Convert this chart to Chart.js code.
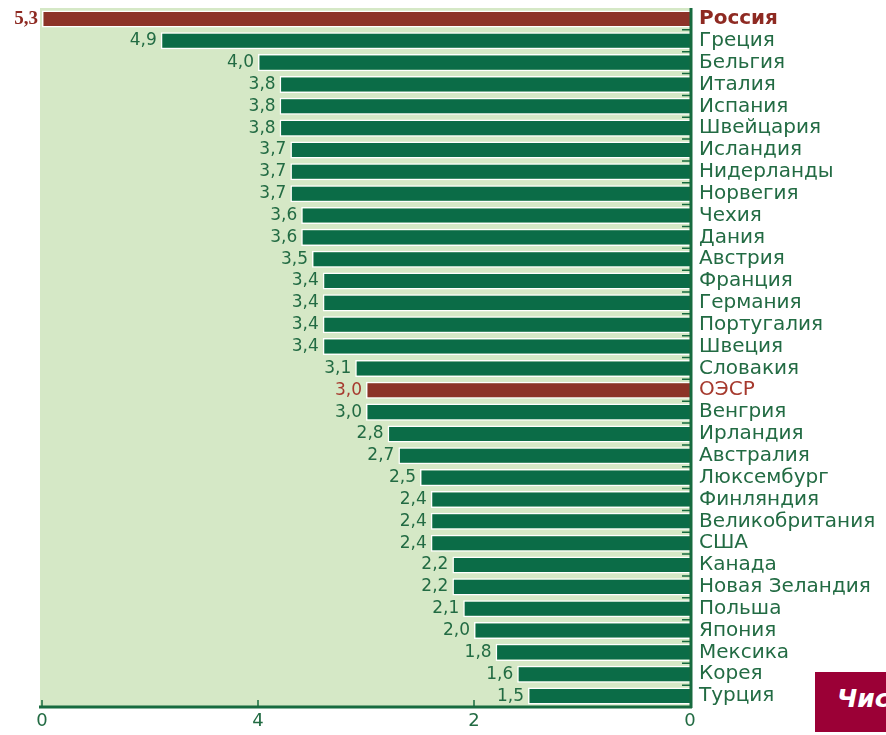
<!DOCTYPE html>
<html>
<head>
<meta charset="utf-8">
<script src="https://cdn.jsdelivr.net/npm/chart.js@4/dist/chart.umd.min.js"></script>
<style>
  body { margin: 0; background: #fff; }
  #wrap { position: relative; width: 886px; height: 735px; overflow: hidden; }
  #badge {
    position: absolute; left: 815px; top: 672px; width: 71px; height: 60px;
    background: #9b0036; color: #fff; overflow: hidden; white-space: nowrap;
    font: italic bold 25px "DejaVu Sans", sans-serif;
    line-height: 54px; padding-left: 22px; box-sizing: border-box;
  }
</style>
</head>
<body>
<div id="wrap">
  <canvas id="myChart" width="886" height="735"></canvas>
  <div id="badge">Числа</div>
</div>
<script>
const countries = ['Россия','Греция','Бельгия','Италия','Испания','Швейцария','Исландия',
  'Нидерланды','Норвегия','Чехия','Дания','Австрия','Франция','Германия','Португалия',
  'Швеция','Словакия','ОЭСР','Венгрия','Ирландия','Австралия','Люксембург','Финляндия',
  'Великобритания','США','Канада','Новая Зеландия','Польша','Япония','Мексика','Корея','Турция'];
const values = [5.3,4.9,4.0,3.8,3.8,3.8,3.7,3.7,3.7,3.6,3.6,3.5,3.4,3.4,3.4,3.4,3.1,3.0,
  3.0,2.8,2.7,2.5,2.4,2.4,2.4,2.2,2.2,2.1,2.0,1.8,1.6,1.5];
const xTickValues = [6, 4, 2, 0];
const xTickLabels = ['0', '4', '2', '0'];
const X_MAX = 6;

const GREEN = '#0b6c47';
const RED = '#8c3328';
const TEXT_GREEN = '#226b43';
const TEXT_RED = '#8e2a22';
const BG = '#d5e8c6';
const AXIS = '#176b3f';
const FONT = '"DejaVu Sans", Verdana, sans-serif';

// Россия и ОЭСР выделены красным
const isRed = (i) => i === 0 || countries[i] === 'ОЭСР';
// у России полоса в оригинале тянется до края оси
const barData = values.map((v, i) => i === 0 ? X_MAX : v);

const bgPlugin = {
  id: 'bg',
  beforeDatasetsDraw(chart) {
    const a = chart.chartArea, c = chart.ctx;
    c.save();
    c.fillStyle = BG;
    c.fillRect(a.left - 2, a.top, a.right - a.left + 2, a.bottom - a.top);
    c.restore();
  }
};

const extrasPlugin = {
  id: 'extras',
  afterDatasetsDraw(chart) {
    const c = chart.ctx, a = chart.chartArea;
    const xs = chart.scales.x, ys = chart.scales.y;
    const meta = chart.getDatasetMeta(0);
    c.save();
    // подписи значений
    meta.data.forEach((bar, i) => {
      const txt = values[i].toFixed(1).replace('.', ',');
      c.textAlign = 'right';
      c.textBaseline = 'middle';
      if (i === 0) {
        c.font = 'bold 19px "Liberation Serif", "Times New Roman", serif';
        c.fillStyle = TEXT_RED;
      } else {
        c.font = '17px ' + FONT;
        c.fillStyle = isRed(i) ? '#a63a2e' : TEXT_GREEN;
      }
      c.fillText(txt, bar.x - 4, bar.y);
    });
    // оси
    c.strokeStyle = AXIS;
    c.lineWidth = 3;
    c.beginPath();
    c.moveTo(a.left - 3, a.bottom);
    c.lineTo(a.right + 2, a.bottom);
    c.moveTo(a.right + 1, a.top);
    c.lineTo(a.right + 1, a.bottom + 1);
    c.stroke();
    c.lineWidth = 1.5;
    c.beginPath();
    xTickValues.forEach(v => {
      if (v === 0) return;
      const px = xs.getPixelForValue(v);
      c.moveTo(px, a.bottom);
      c.lineTo(px, a.bottom - 7);
    });
    for (let i = 0; i < countries.length - 1; i++) {
      const py = ys.getPixelForValue(i + 0.5);
      c.moveTo(a.right - 8, py);
      c.lineTo(a.right, py);
    }
    c.stroke();
    c.restore();
  }
};

new Chart(document.getElementById('myChart').getContext('2d'), {
  type: 'bar',
  data: {
    labels: countries,
    datasets: [{
      data: barData,
      backgroundColor: countries.map((c, i) => isRed(i) ? RED : GREEN),
      borderColor: '#ffffff',
      borderWidth: 1.5,
      borderSkipped: 'start',
      categoryPercentage: 1,
      barPercentage: 0.78
    }]
  },
  options: {
    indexAxis: 'y',
    responsive: false,
    animation: false,
    layout: { padding: { left: 42, top: 8, right: 0, bottom: 0 } },
    plugins: { legend: { display: false }, tooltip: { enabled: false } },
    scales: {
      x: {
        reverse: true,
        min: 0,
        max: X_MAX,
        position: 'bottom',
        grid: { display: false, drawTicks: false },
        border: { display: false },
        afterBuildTicks: (s) => { s.ticks = xTickValues.map(v => ({ value: v })); },
        afterFit: (s) => { s.height = 28; s.paddingLeft = 0; s.paddingRight = 0; },
        ticks: {
          padding: 4,
          color: TEXT_GREEN,
          font: { size: 18, family: FONT },
          maxRotation: 0,
          callback: (v) => xTickLabels[xTickValues.indexOf(v)]
        }
      },
      y: {
        position: 'right',
        grid: { display: false, drawTicks: false },
        border: { display: false },
        afterFit: (s) => { s.width = 196; s.paddingTop = 0; s.paddingBottom = 0; },
        ticks: {
          padding: 9,
          autoSkip: false,
          color: (ctx) => isRed(ctx.index) ? (ctx.index === 0 ? TEXT_RED : '#a63a2e') : TEXT_GREEN,
          font: (ctx) => ({ size: 20, family: FONT, weight: ctx.index === 0 ? 'bold' : 'normal' })
        }
      }
    }
  },
  plugins: [bgPlugin, extrasPlugin]
});
</script>
</body>
</html>
